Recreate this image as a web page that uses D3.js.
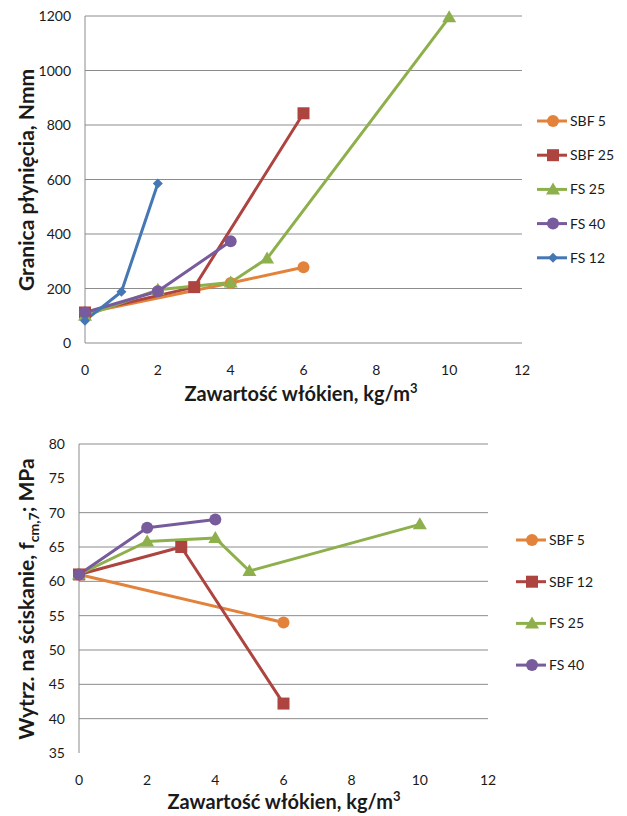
<!DOCTYPE html>
<html>
<head>
<meta charset="utf-8">
<script src="https://cdn.jsdelivr.net/npm/d3@7"></script>
<style>
  body { margin: 0; background: #fff; }
  svg text { font-family: Lato, "Open Sans", sans-serif; fill: #1a1a1a; }
</style>
</head>
<body>
<div id="main"></div>
<script>
// top chart data
const topNames = ['SBF 5', 'SBF 25', 'FS 25', 'FS 40', 'FS 12'];
const topSbf5 = [[0, 110], [4, 220], [6, 278]];
const topSbf25 = [[0, 112], [3, 205], [6, 843]];
const topFs25 = [[0, 100], [2, 195], [4, 222], [5, 310], [10, 1195]];
const topFs40 = [[0, 112], [2, 190], [4, 373]];
const topFs12 = [[0, 82], [1, 188], [2, 585]];
const topXTicks = [0, 2, 4, 6, 8, 10, 12];
const topYTicks = [0, 200, 400, 600, 800, 1000, 1200];

// bottom chart data
const botNames = ['SBF 5', 'SBF 12', 'FS 25', 'FS 40'];
const botSbf5 = [[0, 61], [6, 54]];
const botSbf12 = [[0, 61], [3, 65], [6, 42.2]];
const botFs25 = [[0, 61], [2, 65.8], [4, 66.3], [5, 61.5], [10, 68.3]];
const botFs40 = [[0, 61], [2, 67.8], [4, 69]];
const botXTicks = [0, 2, 4, 6, 8, 10, 12];
const botYTicks = [35, 40, 45, 50, 55, 60, 65, 70, 75, 80];
const botGrid = [40, 45, 50, 55, 60, 65, 70, 80];

const colors = {
  orange: '#E3823B', red: '#AE4440', green: '#8DB04C', purple: '#775B9C', blue: '#4477B4',
};

const svg = d3.select('#main')
  .append('svg')
  .attr('width', 627)
  .attr('height', 816);

function marker(g, type, color, x, y) {
  if (type === 'circle') {
    g.append('circle').attr('cx', x).attr('cy', y).attr('r', 6).style('fill', color);
  } else if (type === 'square') {
    g.append('rect').attr('x', x - 6).attr('y', y - 6).attr('width', 12).attr('height', 12).style('fill', color);
  } else if (type === 'triangle') {
    g.append('path').attr('d', `M${x},${y - 7}L${x + 7},${y + 5}L${x - 7},${y + 5}Z`).style('fill', color);
  } else if (type === 'diamond') {
    g.append('path').attr('d', `M${x},${y - 5}L${x + 5},${y}L${x},${y + 5}L${x - 5},${y}Z`).style('fill', color);
  }
}

function drawChart(opt) {
  const x = d3.scaleLinear().domain([0, 12]).range([opt.left, opt.right]);
  const y = d3.scaleLinear().domain(opt.yDomain).range([opt.bottom, opt.top]);
  const g = svg.append('g');

  g.selectAll('.grid')
    .data(opt.grid)
    .enter()
    .append('line')
    .attr('x1', opt.left)
    .attr('x2', opt.right)
    .attr('y1', (d) => y(d))
    .attr('y2', (d) => y(d))
    .style('stroke', '#8c8c8c')
    .style('stroke-width', 1);

  g.append('line')
    .attr('x1', opt.left).attr('x2', opt.left)
    .attr('y1', opt.top).attr('y2', opt.bottom)
    .style('stroke', '#8c8c8c');

  g.selectAll('.ytick')
    .data(opt.yTicks)
    .enter()
    .append('text')
    .attr('x', opt.left - 14)
    .attr('y', (d) => y(d) + 5)
    .attr('text-anchor', 'end')
    .style('font-size', '14px')
    .text((d) => d);

  g.selectAll('.xtick')
    .data(opt.xTicks)
    .enter()
    .append('text')
    .attr('x', (d) => x(d))
    .attr('y', opt.xTickY)
    .attr('text-anchor', 'middle')
    .style('font-size', '14px')
    .text((d) => d);

  const xt = g.append('text')
    .attr('x', opt.xTitleX)
    .attr('y', opt.xTitleY)
    .attr('text-anchor', 'middle')
    .style('font-size', '20px')
    .style('font-weight', 'bold');
  xt.append('tspan').text('Zawartość włókien, kg/m');
  xt.append('tspan').attr('dy', -8).style('font-size', '13px').text('3');

  const yt = g.append('text')
    .attr('transform', `translate(${opt.yTitleX},${opt.yTitleY}) rotate(-90)`)
    .attr('text-anchor', 'middle')
    .style('font-size', '21px')
    .style('font-weight', 'bold');
  opt.yTitle(yt);

  const line = d3.line().x((d) => x(d[0])).y((d) => y(d[1]));

  opt.series.forEach((s) => {
    g.append('path')
      .attr('d', line(s.data))
      .style('fill', 'none')
      .style('stroke', s.color)
      .style('stroke-width', 3)
      .style('stroke-linejoin', 'round');
  });
  opt.series.forEach((s) => {
    s.data.forEach((d) => marker(g, s.marker, s.color, x(d[0]), y(d[1])));
  });

  opt.series.forEach((s, i) => {
    const ly = opt.legendY + i * opt.legendStep;
    g.append('line')
      .attr('x1', opt.legendX).attr('x2', opt.legendX + 30)
      .attr('y1', ly).attr('y2', ly)
      .style('stroke', s.color)
      .style('stroke-width', 3);
    marker(g, s.marker, s.color, opt.legendX + 16, ly);
    g.append('text')
      .attr('x', opt.legendX + 33)
      .attr('y', ly + 5)
      .style('font-size', '14px')
      .text(s.name);
  });
}

drawChart({
  left: 85, right: 522, top: 16, bottom: 343,
  yDomain: [0, 1200],
  grid: topYTicks,
  yTicks: topYTicks,
  xTicks: topXTicks,
  xTickY: 375,
  xTitleX: 301,
  xTitleY: 401,
  yTitleX: 34,
  yTitleY: 180,
  yTitle: (t) => t.text('Granica płynięcia, Nmm'),
  legendX: 537, legendY: 121, legendStep: 34.2,
  series: [
    { name: topNames[0], data: topSbf5, color: colors.orange, marker: 'circle' },
    { name: topNames[1], data: topSbf25, color: colors.red, marker: 'square' },
    { name: topNames[2], data: topFs25, color: colors.green, marker: 'triangle' },
    { name: topNames[3], data: topFs40, color: colors.purple, marker: 'circle' },
    { name: topNames[4], data: topFs12, color: colors.blue, marker: 'diamond' },
  ],
});

drawChart({
  left: 79, right: 488, top: 444, bottom: 753,
  yDomain: [35, 80],
  grid: botGrid,
  yTicks: botYTicks,
  xTicks: botXTicks,
  xTickY: 785,
  xTitleX: 284,
  xTitleY: 809,
  yTitleX: 34,
  yTitleY: 599,
  yTitle: (t) => {
    t.append('tspan').text('Wytrz. na ściskanie, f');
    t.append('tspan').attr('dy', 5).style('font-size', '14px').text('cm,7');
    t.append('tspan').attr('dy', -5).text('; MPa');
  },
  legendX: 516, legendY: 540, legendStep: 41.7,
  series: [
    { name: botNames[0], data: botSbf5, color: colors.orange, marker: 'circle' },
    { name: botNames[1], data: botSbf12, color: colors.red, marker: 'square' },
    { name: botNames[2], data: botFs25, color: colors.green, marker: 'triangle' },
    { name: botNames[3], data: botFs40, color: colors.purple, marker: 'circle' },
  ],
});
</script>
</body>
</html>
